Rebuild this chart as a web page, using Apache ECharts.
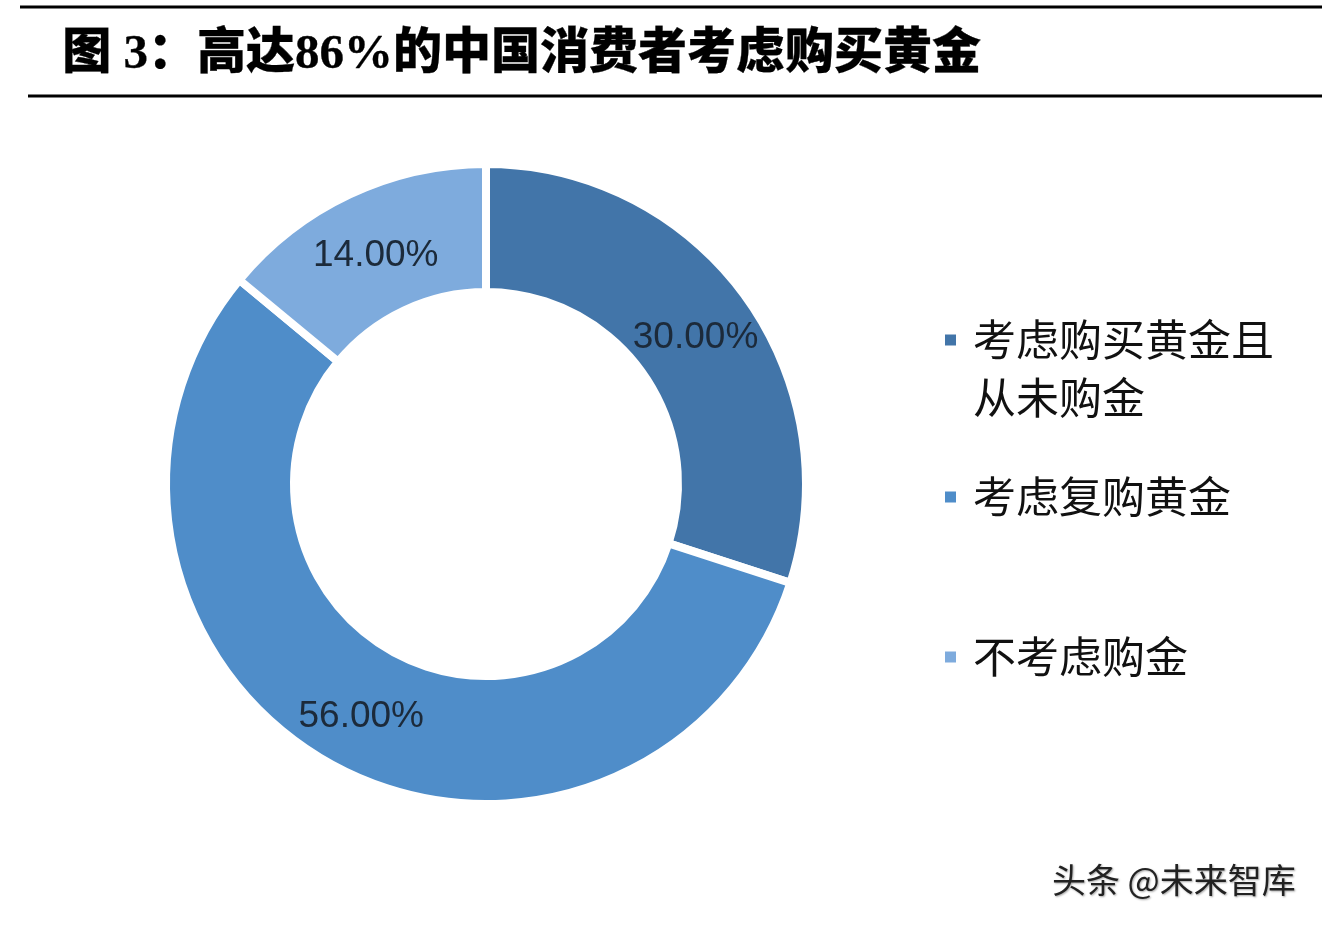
<!DOCTYPE html>
<html>
<head>
<meta charset="utf-8">
<script src="https://cdn.jsdelivr.net/npm/echarts@6/dist/echarts.min.js"></script>
<style>
  html, body { margin: 0; padding: 0; background: #fff; }
  #main { width: 1322px; height: 926px; }
</style>
</head>
<body>
<div id="main"></div>
<script>
// 数据
var categories = ['考虑购买黄金且从未购金', '考虑复购黄金', '不考虑购金'];
var shares = [30, 56, 14];
var titleText = '图 3：高达86%的中国消费者考虑购买黄金';
var sourceText = '头条 @未来智库';

var sliceColors = ['#4275a9', '#4f8dc9', '#7eabdd'];

var myChart = echarts.init(document.getElementById('main'));

var pieData = [];
for (var i = 0; i < categories.length; i++) {
    pieData.push({ name: categories[i], value: shares[i], itemStyle: { color: sliceColors[i] } });
}

var legendFont = {
    fontFamily: 'Noto Sans CJK SC',
    fontSize: 43,
    lineHeight: 58,
    color: '#111',
    padding: [0, 0, 0, 12]
};

// 图例方块不继承扇区的白边
var legendIconStyle = { borderWidth: 0 };

option = {
    backgroundColor: '#fff',
    animation: false,
    graphic: [
        { type: 'line', shape: { x1: 20, y1: 7, x2: 1322, y2: 7 }, style: { stroke: '#000', lineWidth: 3 } },
        { type: 'line', shape: { x1: 28, y1: 96, x2: 1322, y2: 96 }, style: { stroke: '#000', lineWidth: 3 } },
        {
            type: 'text', left: 62, top: 31,
            style: {
                text: titleText,
                font: '900 49px "Liberation Serif", "Noto Sans CJK SC"',
                fill: '#000',
                stroke: '#000',
                lineWidth: 0.3
            }
        },
        {
            type: 'text', left: 1052, top: 863,
            style: {
                text: sourceText,
                font: '34px "Noto Sans CJK SC"',
                fill: '#222',
                textShadowColor: 'rgba(0,0,0,0.35)',
                textShadowBlur: 2,
                textShadowOffsetX: 1,
                textShadowOffsetY: 1
            }
        }
    ],
    legend: [
        {
            data: [categories[0]],
            left: 945, top: 253, padding: 0,
            icon: 'rect', itemWidth: 11, itemHeight: 11,
            itemStyle: legendIconStyle,
            selectedMode: false,
            formatter: function (name) {
                // 首行与图例方块对齐
                return '\n' + name.slice(0, 7) + '\n' + name.slice(7);
            },
            textStyle: legendFont
        },
        {
            data: [categories[1]],
            left: 945, top: 468, padding: 0,
            icon: 'rect', itemWidth: 11, itemHeight: 11,
            itemStyle: legendIconStyle,
            selectedMode: false,
            textStyle: legendFont
        },
        {
            data: [categories[2]],
            left: 945, top: 628, padding: 0,
            icon: 'rect', itemWidth: 11, itemHeight: 11,
            itemStyle: legendIconStyle,
            selectedMode: false,
            textStyle: legendFont
        }
    ],
    series: [
        {
            name: '',
            type: 'pie',
            center: [486, 484],
            radius: [192, 320],
            startAngle: 90,
            clockwise: true,
            avoidLabelOverlap: false,
            silent: true,
            data: pieData,
            itemStyle: {
                borderColor: '#fff',
                borderWidth: 8
            },
            label: {
                show: true,
                position: 'inside',
                formatter: function (p) { return p.value.toFixed(2) + '%'; },
                fontFamily: 'Liberation Sans',
                fontSize: 37,
                color: '#1c2a3a',
                offset: [0, 6]
            },
            labelLine: { show: false }
        }
    ]
};
myChart.setOption(option);
</script>
</body>
</html>
